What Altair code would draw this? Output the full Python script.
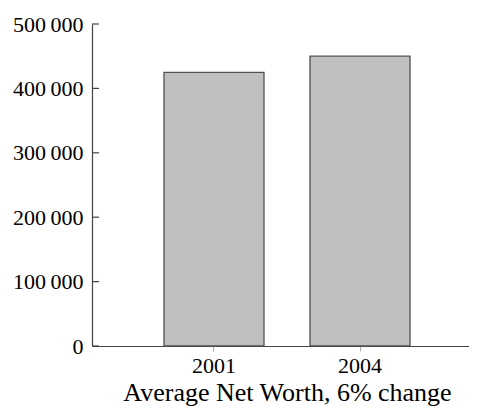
import altair as alt
import pandas as pd

years = ["2001", "2004"]
net_worth = [425000, 450000]
y_ticks = [0, 100000, 200000, 300000, 400000, 500000]

FONT = "Liberation Serif"
AXIS_COL = "#444444"

bars_df = pd.DataFrame({"year": years, "value": net_worth})
ticks_df = pd.DataFrame({"value": y_ticks})

yscale = alt.Scale(domain=[0, 500000], nice=False)
yaxis = alt.Axis(title=None, values=y_ticks, grid=False, tickSize=0,
                 labelFont=FONT, labelFontSize=22, labelColor="black",
                 labelPadding=9, domainColor=AXIS_COL, domainWidth=1.2,
                 labelExpr="replace(format(datum.value, ','), ',', '\u2009')")

bars = alt.Chart(bars_df).mark_bar(
    fill="#bfbfbf", stroke="#505050", strokeWidth=1.3
).encode(
    x=alt.X("year:N",
            scale=alt.Scale(paddingInner=0.315, paddingOuter=0.493, range=[0, 390]),
            axis=alt.Axis(title="Average Net Worth, 6% change", labelAngle=0,
                          labelFont=FONT, labelFontSize=22, labelColor="black",
                          titleFont=FONT, titleFontSize=26, titleFontWeight="normal",
                          titleColor="black", titlePadding=3, labelPadding=4,
                          titleX=195, titleAnchor="middle",
                          tickColor="#b0b0b0", tickSize=5, domainColor=AXIS_COL,
                          domainWidth=1.2)),
    y=alt.Y("value:Q", scale=yscale, axis=yaxis),
)

ticks = alt.Chart(ticks_df).mark_rule(color=AXIS_COL, strokeWidth=1.2).encode(
    y=alt.Y("value:Q", scale=yscale, axis=yaxis),
    x=alt.value(0),
    x2=alt.value(7),
)

chart = alt.layer(bars, ticks).properties(
    width=377, height=322,
    autosize="none",
    padding={"left": 84, "top": 16, "right": 0, "bottom": 60},
).configure_view(stroke=None)

chart.save("out.html", embed_options={"renderer": "svg", "actions": False})
